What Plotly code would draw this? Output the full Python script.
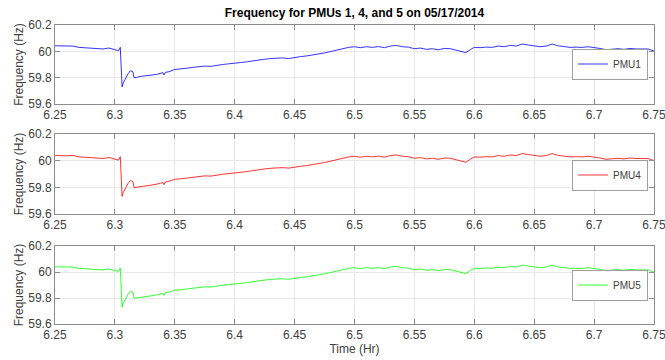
import plotly.graph_objects as go

time_hr = [6.250, 6.255, 6.260, 6.265, 6.270, 6.275, 6.280, 6.285, 6.290, 6.295,
           6.300, 6.303, 6.3045, 6.305, 6.3055, 6.306, 6.307, 6.309, 6.311, 6.313,
           6.315, 6.316, 6.318, 6.320, 6.325, 6.330, 6.335, 6.340, 6.341, 6.342,
           6.345, 6.350, 6.355, 6.360, 6.365, 6.370, 6.375, 6.380, 6.385, 6.390,
           6.395, 6.400, 6.405, 6.410, 6.415, 6.420, 6.425, 6.430, 6.435, 6.440,
           6.445, 6.450, 6.455, 6.460, 6.465, 6.470, 6.475, 6.480, 6.485, 6.490,
           6.495, 6.500, 6.505, 6.510, 6.515, 6.520, 6.525, 6.530, 6.535, 6.540,
           6.545, 6.550, 6.555, 6.560, 6.565, 6.570, 6.575, 6.580, 6.585, 6.590,
           6.593, 6.597, 6.600, 6.605, 6.610, 6.615, 6.620, 6.625, 6.630, 6.635,
           6.640, 6.645, 6.650, 6.655, 6.660, 6.665, 6.670, 6.675, 6.680, 6.685,
           6.690, 6.695, 6.700, 6.705, 6.710, 6.715, 6.720, 6.725, 6.730, 6.735,
           6.740, 6.745, 6.750]

pmu1 = [60.042, 60.040, 60.038, 60.040, 60.030, 60.028, 60.024, 60.020, 60.018, 60.025,
        60.012, 60.005, 60.030, 59.880, 59.750, 59.730, 59.760, 59.800, 59.830, 59.852,
        59.845, 59.800, 59.800, 59.808, 59.812, 59.818, 59.825, 59.838, 59.820, 59.840,
        59.845, 59.862, 59.865, 59.872, 59.878, 59.882, 59.888, 59.886, 59.895, 59.900,
        59.905, 59.908, 59.915, 59.920, 59.928, 59.935, 59.940, 59.945, 59.948, 59.950,
        59.945, 59.955, 59.960, 59.965, 59.972, 59.978, 59.988, 59.998, 60.008, 60.022,
        60.030, 60.035, 60.028, 60.035, 60.030, 60.036, 60.028, 60.040, 60.045, 60.035,
        60.032, 60.020, 60.025, 60.015, 60.020, 60.012, 60.022, 60.020, 60.010, 60.000,
        59.990, 60.015, 60.030, 60.028, 60.032, 60.030, 60.040, 60.035, 60.045, 60.040,
        60.055, 60.048, 60.040, 60.035, 60.040, 60.055, 60.042, 60.035, 60.030, 60.032,
        60.030, 60.035, 60.030, 60.022, 60.012, 60.018, 60.020, 60.015, 60.022, 60.018,
        60.020, 60.018, 60.002]

pmu4 = [60.040, 60.038, 60.036, 60.040, 60.028, 60.026, 60.022, 60.018, 60.016, 60.024,
        60.010, 60.004, 60.030, 59.880, 59.750, 59.732, 59.762, 59.800, 59.830, 59.850,
        59.845, 59.798, 59.800, 59.806, 59.810, 59.816, 59.824, 59.836, 59.820, 59.840,
        59.845, 59.860, 59.864, 59.870, 59.876, 59.880, 59.886, 59.884, 59.893, 59.898,
        59.903, 59.906, 59.913, 59.918, 59.926, 59.933, 59.938, 59.943, 59.946, 59.948,
        59.944, 59.953, 59.958, 59.963, 59.970, 59.976, 59.986, 59.996, 60.006, 60.020,
        60.028, 60.033, 60.026, 60.033, 60.028, 60.034, 60.026, 60.038, 60.043, 60.033,
        60.030, 60.018, 60.023, 60.013, 60.018, 60.010, 60.020, 60.018, 60.008, 59.998,
        59.988, 60.013, 60.028, 60.026, 60.030, 60.028, 60.038, 60.033, 60.043, 60.038,
        60.053, 60.046, 60.038, 60.033, 60.038, 60.053, 60.040, 60.033, 60.028, 60.030,
        60.028, 60.033, 60.028, 60.020, 60.010, 60.016, 60.018, 60.013, 60.020, 60.016,
        60.018, 60.016, 60.000]

pmu5 = [60.040, 60.038, 60.036, 60.038, 60.028, 60.026, 60.022, 60.018, 60.016, 60.024,
        60.010, 60.004, 60.030, 59.880, 59.750, 59.730, 59.760, 59.800, 59.830, 59.850,
        59.845, 59.798, 59.800, 59.806, 59.810, 59.816, 59.824, 59.836, 59.820, 59.840,
        59.845, 59.860, 59.864, 59.870, 59.876, 59.880, 59.886, 59.884, 59.893, 59.898,
        59.903, 59.906, 59.913, 59.918, 59.926, 59.933, 59.938, 59.943, 59.946, 59.948,
        59.944, 59.953, 59.958, 59.963, 59.970, 59.976, 59.986, 59.996, 60.006, 60.020,
        60.028, 60.033, 60.026, 60.033, 60.028, 60.034, 60.026, 60.038, 60.043, 60.033,
        60.030, 60.018, 60.023, 60.013, 60.018, 60.010, 60.020, 60.018, 60.008, 59.998,
        59.988, 60.013, 60.028, 60.026, 60.030, 60.028, 60.038, 60.033, 60.043, 60.038,
        60.053, 60.046, 60.038, 60.033, 60.038, 60.053, 60.040, 60.033, 60.028, 60.030,
        60.028, 60.033, 60.028, 60.020, 60.010, 60.016, 60.018, 60.013, 60.020, 60.016,
        60.018, 60.016, 60.000]

series = [("PMU1", pmu1, "#0000ff"), ("PMU4", pmu4, "#ff0000"), ("PMU5", pmu5, "#00ff00")]
x_ticks = [6.25, 6.3, 6.35, 6.4, 6.45, 6.5, 6.55, 6.6, 6.65, 6.7, 6.75]
x_labels = ["6.25", "6.3", "6.35", "6.4", "6.45", "6.5", "6.55", "6.6", "6.65", "6.7", "6.75"]
y_ticks = [59.6, 59.8, 60.0, 60.2]
y_labels = ["59.6", "59.8", "60", "60.2"]

W, H = 665, 360
xdom = [55 / W, 654 / W]
panels_px = [(25, 104), (134, 214), (246, 324)]
legend_center_px = [64, 175, 285]

FONT = "Liberation Sans, Arial, Helvetica, sans-serif"
AX = "#8c8c8c"
TXT = "#404040"

fig = go.Figure()
layout = dict(
    width=W, height=H, margin=dict(l=0, r=0, t=0, b=0),
    paper_bgcolor="white", plot_bgcolor="white", showlegend=True,
    font=dict(family=FONT, size=11, color=TXT),
    title=dict(text="<b>Frequency for PMUs 1, 4, and 5 on 05/17/2014</b>",
               x=(55 + 654) / 2 / W, xanchor="center", y=1 - 13 / H, yanchor="middle",
               font=dict(size=12, color="#000000", family=FONT)),
)

for i, (name, vals, col) in enumerate(series):
    n = "" if i == 0 else str(i + 1)
    top, bot = panels_px[i]
    fig.add_trace(go.Scatter(x=time_hr, y=vals, mode="lines", name=name,
                             line=dict(color=col, width=0.8),
                             xaxis="x" + n, yaxis="y" + n,
                             legend="legend" + n, showlegend=True))
    layout["xaxis" + n] = dict(
        domain=xdom, anchor="y" + n, range=[6.25, 6.75001], automargin=False,
        tickvals=x_ticks, ticktext=x_labels, ticks="inside", ticklen=5, tickcolor=AX,
        ticklabeloverflow="allow",
        showline=True, linecolor=AX, linewidth=1, mirror="ticks",
        showgrid=True, gridcolor="#e8e8e8", gridwidth=1, zeroline=False,
        tickfont=dict(size=12, color=TXT),
        title=dict(text="Time (Hr)", font=dict(size=12, color=TXT), standoff=2) if i == 2 else None,
    )
    layout["yaxis" + n] = dict(
        domain=[1 - bot / H, 1 - top / H], anchor="x" + n, range=[59.6, 60.2], automargin=False,
        tickvals=y_ticks, ticktext=y_labels, ticks="inside", ticklen=5, tickcolor=AX,
        showline=True, linecolor=AX, linewidth=1, mirror="ticks",
        showgrid=True, gridcolor="#e8e8e8", gridwidth=1, zeroline=False,
        tickfont=dict(size=12, color=TXT),
        title=dict(text="Frequency (Hz)", font=dict(size=12, color=TXT), standoff=2),
    )
    layout["legend" + n] = dict(
        x=648 / W, xanchor="right", y=1 - legend_center_px[i] / H, yanchor="middle",
        bgcolor="white", bordercolor="#a0a0a0", borderwidth=1,
        font=dict(size=10, color=TXT, family=FONT),
        itemwidth=30, tracegroupgap=0, visible=True,
    )

fig.update_layout(**layout)
fig.write_html("out.html", config={"displayModeBar": False},
               post_script="document.body.style.margin='0';document.body.style.overflow='hidden';")
